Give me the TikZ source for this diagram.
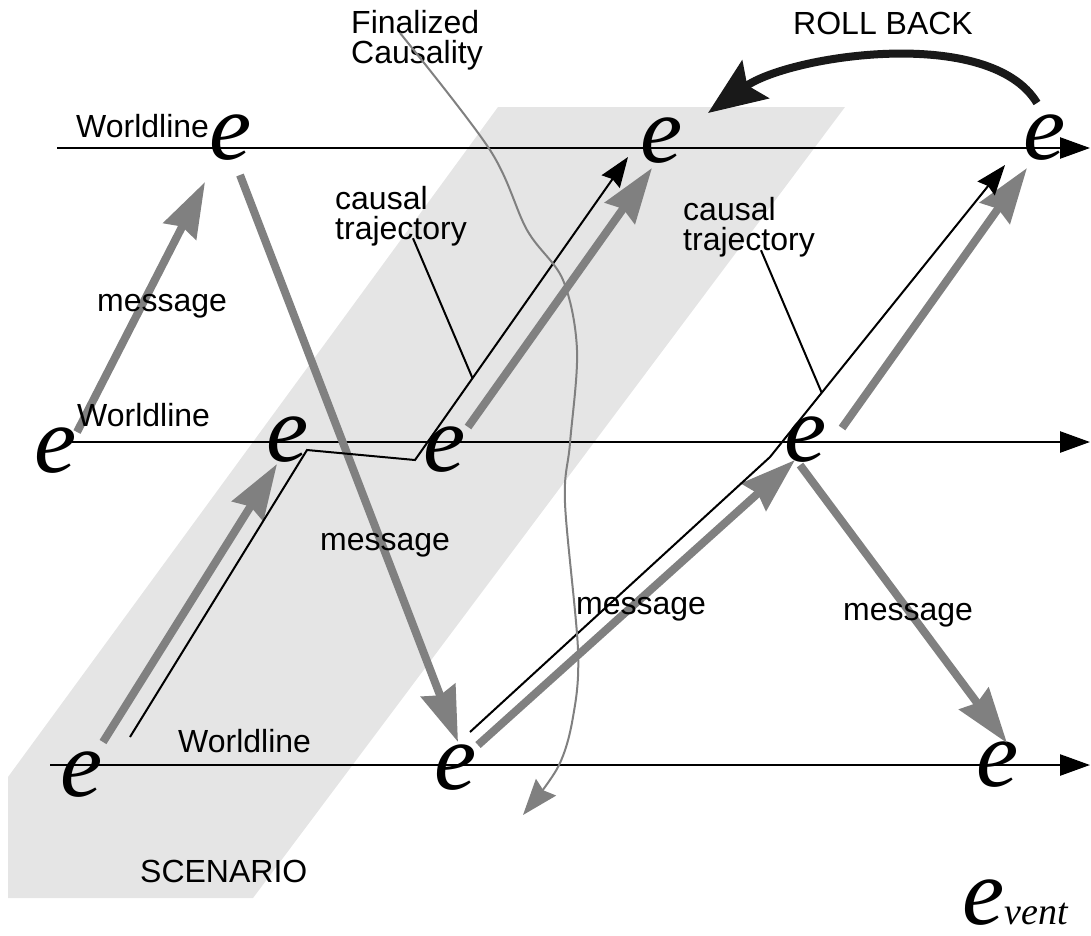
\documentclass[tikz,border=0pt]{standalone}
\usepackage{fontspec}
\setmainfont{Liberation Sans}
\newfontfamily\evfont{Liberation Serif}
\usetikzlibrary{arrows.meta}

\definecolor{msggray}{gray}{0.5}
\definecolor{scenfill}{gray}{0.9}

\begin{document}
\begin{tikzpicture}[x=1pt,y=-1pt,
    ev/.style={inner sep=0pt,font=\evfont\itshape\fontsize{95}{95}\selectfont},
    lbl/.style={inner sep=0pt,font=\fontsize{32}{30}\selectfont},
    wl/.style={draw,line width=2.5pt,-{Triangle[length=30pt,width=21pt]}},
    msg/.style={draw,msggray,line width=8pt,-{Stealth[length=55pt,width=36pt,inset=5pt]}},
    caus/.style={draw,line width=2pt,-{Stealth[length=30pt,width=22pt,inset=3pt]}},
    lead/.style={draw,line width=2pt},
    fcurve/.style={draw,msggray,line width=2pt,-{Stealth[length=36pt,width=26pt,inset=4pt]}},
    roll/.style={draw,black!90,line width=8pt,-{Stealth[length=58pt,width=46pt,inset=10pt]}}]
    \useasboundingbox (0,0) rectangle (1091,935);

    \fill[scenfill] (8,898) -- (253,898) -- (845,107) -- (498,107) -- (8,777) -- cycle;

    \coordinate (wlts) at (57,148);
    \coordinate (wlte) at (1090,148);
    \coordinate (wlms) at (72,442);
    \coordinate (wlme) at (1090,442);
    \coordinate (wlbs) at (50,765);
    \coordinate (wlbe) at (1090,765);
    \draw[wl] (wlts) -- (wlte);
    \draw[wl] (wlms) -- (wlme);
    \draw[wl] (wlbs) -- (wlbe);

    \node[ev] (t1) at (231,138) {e};
    \node[ev] (t2) at (662,141) {e};
    \node[ev] (t3) at (1045,138) {e};
    \node[ev] (m1) at (56,451) {e};
    \node[ev] (m2) at (288,440) {e};
    \node[ev] (m3) at (445,450) {e};
    \node[ev] (m4) at (806,440) {e};
    \node[ev] (b1) at (82,775) {e};
    \node[ev] (b2) at (456,768) {e};
    \node[ev] (b3) at (998,765) {e};

    \draw[msg] ([shift={(21,-19)}]m1.center) -- ([shift={(-26,44)}]t1.center);
    \draw[msg] ([shift={(9,37)}]t1.center) -- ([shift={(2,-26)}]b2.center);
    \draw[msg] ([shift={(21,-33)}]b1.center) -- ([shift={(-11,24)}]m2.center);
    \draw[msg] ([shift={(23,-23)}]m3.center) -- ([shift={(-10,27)}]t2.center);
    \draw[msg] ([shift={(22,-23)}]b2.center) -- ([shift={(-11,20)}]m4.center);
    \draw[msg] ([shift={(36,-12)}]m4.center) -- ([shift={(-18,30)}]t3.center);
    \draw[msg] ([shift={(-6,25)}]m4.center) -- ([shift={(9,-22)}]b3.center);

    \draw[caus] ([shift={(48,-38)}]b1.center) -- ([shift={(19,10)}]m2.center) -- ([shift={(-30,10)}]m3.center)
        -- coordinate[pos=0.27] (ct1) ([shift={(-34,16)}]t2.center);
    \draw[caus] ([shift={(14,-36)}]b2.center) -- ([shift={(-36,17)}]m4.center)
        -- coordinate[pos=0.22] (ct2) ([shift={(-40,27)}]t3.center);

    \node[lbl, anchor=base west] (wlt) at (76,137) {Worldline};
    \node[lbl, anchor=base west] (wlm) at (77,426) {Worldline};
    \node[lbl, anchor=base west] (wlb) at (178,752) {Worldline};
    \node[lbl, anchor=base west] (msga) at (97,311) {message};
    \node[lbl, anchor=base west] (msgb) at (320,550) {message};
    \node[lbl, anchor=base west] (msgc) at (576,614) {message};
    \node[lbl, anchor=base west] (msgd) at (843,620) {message};
    \node[lbl, anchor=base west] (roll) at (793,34) {ROLL BACK};
    \node[lbl, anchor=base west] (scen) at (140,882) {SCENARIO};
    \node[lbl, align=left, anchor=north west] (fin) at (351,10) {Finalized\\Causality};
    \node[lbl, align=left, anchor=north west] (ctl) at (335,186) {causal\\trajectory};
    \node[lbl, align=left, anchor=north west] (ctr) at (683,197) {causal\\trajectory};

    \draw[lead] ([shift={(12,-8)}]ctl.south) -- (ct1);
    \draw[lead] ([shift={(12,-7)}]ctr.south) -- (ct2);

    \coordinate (fcend) at (523,815);
    \draw[fcurve] plot[smooth,tension=0.55] coordinates {(400,33) (490,150) (527,230) (563,280)
        (577,350) (570,443) (565,503) (578,650) (573,717) (558,767) (fcend)};

    \draw[roll] ([shift={(-8,-35)}]t3.center) .. controls (990,25) and (790,55) .. ([shift={(46,-28)}]t2.center);

    \node[ev, anchor=base west] (evlegend) at (962,924) {e{\fontsize{38}{38}\selectfont vent}};
\end{tikzpicture}
\end{document}
